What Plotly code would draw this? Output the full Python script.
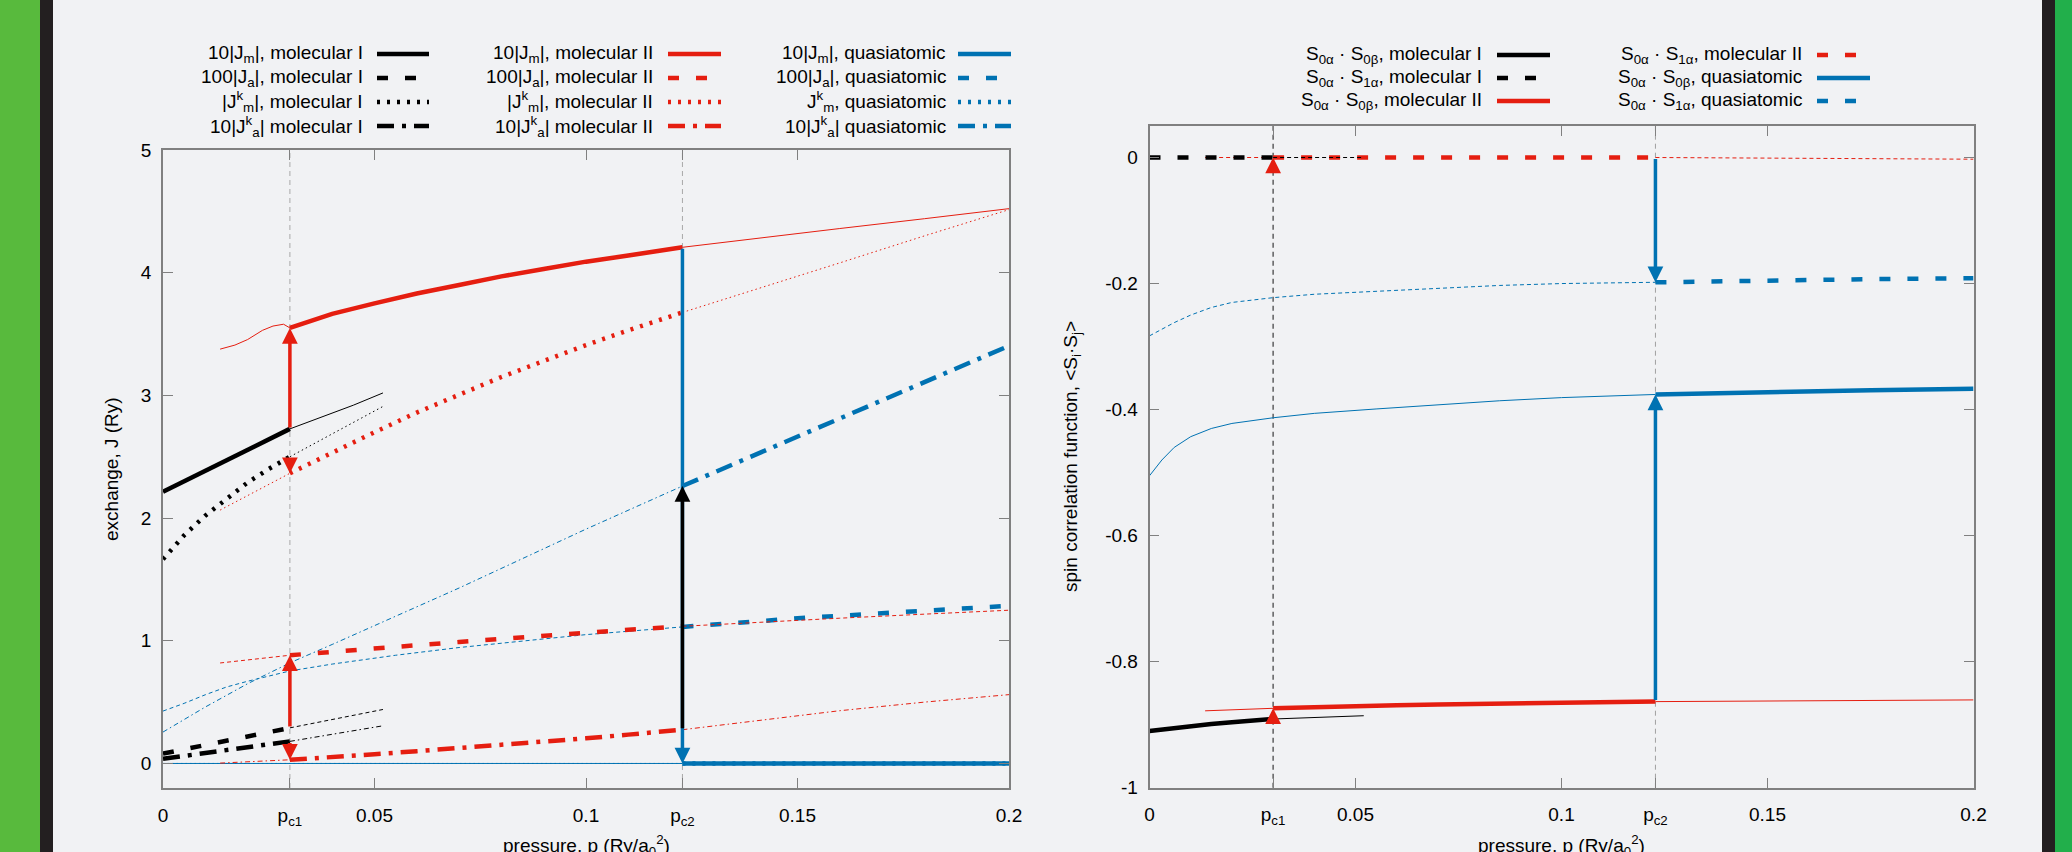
import numpy as np
import plotly.graph_objects as go

W, H = 2072, 852
PC1, PC2 = 0.03, 0.1228

BLACK, RED, BLUE = "#000000", "#e51e10", "#0072b2"
BG = "#f1f2f4"
FRAME = "#808080"
GREEN_L, GREEN_R, DARK = "#58ba3d", "#22af4b", "#231f20"
FONT = "Liberation Sans, Arial, Helvetica, sans-serif"
FS = 19

# ---------------- exchange integrals, J (Ry) ----------------
p_mol1 = [0, 0.005, 0.01, 0.015, 0.02, 0.025, 0.03, 0.035, 0.04, 0.045, 0.052]
jm_mol1 = [2.215, 2.30, 2.385, 2.47, 2.555, 2.64, 2.727, 2.79, 2.855, 2.92, 3.02]
ja_mol1 = [0.08, 0.115, 0.15, 0.185, 0.22, 0.255, 0.29, 0.325, 0.36, 0.39, 0.44]
jkm_mol1 = [1.665, 1.86, 2.02, 2.16, 2.29, 2.40, 2.50, 2.593, 2.686, 2.78, 2.91]
jka_mol1 = [0.038, 0.062, 0.086, 0.11, 0.134, 0.157, 0.18, 0.209, 0.238, 0.267, 0.307]

p_mol2 = [0.0135, 0.017, 0.02, 0.0235, 0.026, 0.0285, 0.03, 0.035, 0.04, 0.05, 0.06,
          0.07, 0.08, 0.09, 0.1, 0.11, 0.1228, 0.14, 0.16, 0.18, 0.2]
jm_mol2 = [3.377, 3.41, 3.455, 3.53, 3.565, 3.58, 3.55, 3.61, 3.665, 3.75, 3.83,
           3.90, 3.97, 4.03, 4.09, 4.14, 4.207, 4.28, 4.36, 4.44, 4.522]
ja_mol2 = [0.819, 0.832, 0.844, 0.857, 0.866, 0.876, 0.882, 0.897, 0.911, 0.938, 0.964,
           0.99, 1.016, 1.042, 1.067, 1.09, 1.118, 1.15, 1.184, 1.217, 1.249]
jkm_mol2 = [2.065, 2.13, 2.185, 2.25, 2.295, 2.34, 2.365, 2.45, 2.535, 2.70, 2.86,
            3.01, 3.15, 3.28, 3.41, 3.53, 3.676, 3.86, 4.08, 4.30, 4.514]
jka_mol2 = [0.003, 0.008, 0.013, 0.018, 0.022, 0.027, 0.03, 0.04, 0.05, 0.075, 0.10,
            0.125, 0.15, 0.178, 0.205, 0.235, 0.275, 0.345, 0.43, 0.50, 0.561]

p_quasi = [0, 0.005, 0.01, 0.015, 0.02, 0.025, 0.03, 0.04, 0.055, 0.07, 0.085, 0.1,
           0.1228, 0.15, 0.175, 0.2]
jm_quasi = [0, 0, 0, 0, 0, 0, 0, 0, 0, 0, 0, 0, 0, 0, 0, 0]
ja_quasi = [0.427, 0.49, 0.56, 0.623, 0.67, 0.715, 0.754, 0.81, 0.882, 0.945, 1.0, 1.05,
            1.113, 1.183, 1.235, 1.285]
jkm_quasi = [0, 0, 0, 0, 0, 0, 0, 0, 0, 0, 0, 0, 0, 0, 0, 0]
jka_quasi = [0.256, 0.36, 0.46, 0.555, 0.65, 0.735, 0.82, 0.97, 1.20, 1.43, 1.67, 1.91,
             2.261, 2.663, 3.034, 3.404]

# ---------------- spin correlation functions <Si.Sj> ----------------
s0b_mol1 = [-0.910, -0.906, -0.9025, -0.899, -0.896, -0.8935, -0.891, -0.8898, -0.8885,
            -0.8875, -0.8858]
s1a_mol1 = [0, 0, 0, 0, 0, 0, 0, 0, 0, 0, 0]
s0b_mol2 = [-0.878, -0.877, -0.8763, -0.8755, -0.875, -0.8744, -0.874, -0.873, -0.872,
            -0.8705, -0.869, -0.8678, -0.8667, -0.8656, -0.8645, -0.8638, -0.8634,
            -0.8628, -0.862, -0.8613, -0.8607]
s1a_mol2 = [0, 0, 0, 0, 0, 0, 0, 0, 0, 0, 0, 0, 0, 0, 0, 0, 0, -0.0005, -0.001, -0.002,
            -0.0027]
p_quasi_s = [0, 0.003, 0.006, 0.01, 0.015, 0.02, 0.03, 0.04, 0.055, 0.07, 0.085, 0.1,
             0.1228, 0.15, 0.175, 0.2]
s0b_quasi = [-0.505, -0.48, -0.46, -0.443, -0.430, -0.422, -0.413, -0.406, -0.399,
             -0.392, -0.386, -0.381, -0.376, -0.372, -0.3695, -0.367]
s1a_quasi = [-0.283, -0.272, -0.262, -0.250, -0.238, -0.230, -0.2224, -0.217, -0.212,
             -0.207, -0.203, -0.200, -0.198, -0.195, -0.193, -0.1915]

# ---------------- axes ----------------
x_ticks = [0, PC1, 0.05, 0.1, PC2, 0.15, 0.2]
x_tick_text = ["0", "p<sub>c1</sub>", "0.05", "0.1", "p<sub>c2</sub>", "0.15", "0.2"]
j_ticks = [0, 1, 2, 3, 4, 5]
s_ticks = [0, -0.2, -0.4, -0.6, -0.8, -1]
s_tick_text = ["0", "-0.2", "-0.4", "-0.6", "-0.8", "-1"]

# stable pressure window of each phase (thick inside, thin outside)
PHASES = {"mol1": (0.0, PC1), "mol2": (PC1, PC2), "quasi": (PC2, 0.2)}

THICK, THIN = 4.5, 1.0
DASH_THICK = {"solid": "solid", "dash": "11px,17px", "dot": "3px,7px",
              "dashdot": "17px,8px,4px,8px"}
DASH_THIN = {"solid": "solid", "dash": "4px,3px", "dot": "1.5px,3px",
             "dashdot": "5px,3px,1.5px,3px"}


def fx(px):
    """page x pixel -> paper fraction"""
    return px / W


def fy(py):
    """page y pixel -> paper fraction"""
    return 1 - py / H


fig = go.Figure()


def add_series(p, v, phase, color, style, xa, ya):
    lo, hi = PHASES[phase]
    eps = 1e-9
    parts = [
        ([(a, b) for a, b in zip(p, v) if a <= lo + eps], False),
        ([(a, b) for a, b in zip(p, v) if lo - eps <= a <= hi + eps], True),
        ([(a, b) for a, b in zip(p, v) if a >= hi - eps], False),
    ]
    for pts, thick in parts:
        if len(pts) < 2:
            continue
        fig.add_trace(go.Scatter(
            x=[a for a, _ in pts], y=[b for _, b in pts], mode="lines",
            line=dict(color=color, width=THICK if thick else THIN,
                      dash=(DASH_THICK if thick else DASH_THIN)[style]),
            xaxis=xa, yaxis=ya, showlegend=False, hoverinfo="skip"))


# left panel
for p, v, ph, c, st in [
    (p_quasi, jm_quasi, "quasi", BLUE, "solid"),
    (p_quasi, jkm_quasi, "quasi", BLUE, "dot"),
    (p_quasi, ja_quasi, "quasi", BLUE, "dash"),
    (p_quasi, jka_quasi, "quasi", BLUE, "dashdot"),
    (p_mol2, jm_mol2, "mol2", RED, "solid"),
    (p_mol2, ja_mol2, "mol2", RED, "dash"),
    (p_mol2, jkm_mol2, "mol2", RED, "dot"),
    (p_mol2, jka_mol2, "mol2", RED, "dashdot"),
    (p_mol1, jm_mol1, "mol1", BLACK, "solid"),
    (p_mol1, ja_mol1, "mol1", BLACK, "dash"),
    (p_mol1, jkm_mol1, "mol1", BLACK, "dot"),
    (p_mol1, jka_mol1, "mol1", BLACK, "dashdot"),
]:
    add_series(p, v, ph, c, st, "x", "y")

# right panel
for p, v, ph, c, st in [
    (p_quasi_s, s0b_quasi, "quasi", BLUE, "solid"),
    (p_quasi_s, s1a_quasi, "quasi", BLUE, "dash"),
    (p_mol2, s0b_mol2, "mol2", RED, "solid"),
    (p_mol2, s1a_mol2, "mol2", RED, "dash"),
    (p_mol1, s0b_mol1, "mol1", BLACK, "solid"),
    (p_mol1, s1a_mol1, "mol1", BLACK, "dash"),
]:
    add_series(p, v, ph, c, st, "x2", "y2")


def at(p, v, x):
    return float(np.interp(x, p, v))


# phase-transition arrows (tail value -> head value)
arrows = [
    ("x", "y", PC1, at(p_mol1, jm_mol1, PC1), at(p_mol2, jm_mol2, PC1), RED),
    ("x", "y", PC1, at(p_mol1, jkm_mol1, PC1), at(p_mol2, jkm_mol2, PC1), RED),
    ("x", "y", PC1, at(p_mol1, ja_mol1, PC1), at(p_mol2, ja_mol2, PC1), RED),
    ("x", "y", PC1, at(p_mol1, jka_mol1, PC1), at(p_mol2, jka_mol2, PC1), RED),
    ("x", "y", PC2, at(p_mol2, jm_mol2, PC2), at(p_quasi, jm_quasi, PC2), BLUE),
    ("x", "y", PC2, at(p_mol2, jka_mol2, PC2), at(p_quasi, jka_quasi, PC2), BLACK),
    ("x2", "y2", PC1, at(p_mol1, s0b_mol1, PC1), at(p_mol2, s0b_mol2, PC1), RED),
    ("x2", "y2", PC2, at(p_mol2, s1a_mol2, PC2), at(p_quasi_s, s1a_quasi, PC2), BLUE),
    ("x2", "y2", PC2, at(p_mol2, s0b_mol2, PC2), at(p_quasi_s, s0b_quasi, PC2), BLUE),
]
for xa, ya, px, tail, head, col in arrows:
    fig.add_annotation(x=px, y=head, ax=px, ay=tail, xref=xa, yref=ya,
                       axref=xa, ayref=ya, text="", showarrow=True, arrowhead=2,
                       arrowsize=0.9, arrowwidth=3.5, arrowcolor=col, standoff=0)
# S0a.S1a is zero in both molecular phases: only the head is visible
fig.add_annotation(x=PC1, y=at(p_mol2, s1a_mol2, PC1), xref="x2", yref="y2",
                   ax=0, ay=16, text="", showarrow=True, arrowhead=2, arrowsize=0.9,
                   arrowwidth=3.5, arrowcolor=RED, standoff=0)

# critical-pressure guides
for xa, px, col, w in [("x", PC1, "#a8a8a8", 1), ("x", PC2, "#a8a8a8", 1),
                       ("x2", PC1, "#3a3a3a", 1.2), ("x2", PC2, "#a0a0a0", 1)]:
    fig.add_shape(type="line", xref=xa, yref=("y" if xa == "x" else "y2") + " domain",
                  x0=px, x1=px, y0=0, y1=1, layer="below",
                  line=dict(color=col, width=w, dash="5px,4px"))

axis_common = dict(showline=True, linecolor=FRAME, linewidth=1.5, mirror="ticks",
                   ticks="inside", ticklen=10, tickwidth=1, tickcolor=FRAME,
                   showgrid=False, zeroline=False, automargin=False,
                   tickfont=dict(family=FONT, size=FS, color=BLACK))

fig.update_layout(
    width=W, height=H, margin=dict(l=0, r=0, t=0, b=0, autoexpand=False), autosize=False,
    paper_bgcolor=BG, plot_bgcolor=BG, font=dict(family=FONT, size=FS, color=BLACK),
    showlegend=False,
    xaxis=dict(domain=[fx(163), fx(1009)], range=[0, 0.2], anchor="y",
               tickvals=x_ticks, ticktext=x_tick_text, ticklabelstandoff=9, **axis_common),
    yaxis=dict(domain=[fy(788), fy(150)], range=[-0.2, 5], anchor="x",
               tickvals=j_ticks, ticktext=[str(t) for t in j_ticks],
               ticklabelstandoff=6, **axis_common),
    xaxis2=dict(domain=[fx(1149.5), fx(1973.5)], range=[0, 0.2], anchor="y2",
                tickvals=x_ticks, ticktext=x_tick_text, ticklabelstandoff=9, **axis_common),
    yaxis2=dict(domain=[fy(787.7), fy(126)], range=[-1, 0.05], anchor="x2",
                tickvals=s_ticks, ticktext=s_tick_text, ticklabelstandoff=6, **axis_common),
)


def px_ann(text, x, y, xanchor="center", yanchor="middle", angle=0):
    fig.add_annotation(text=text, x=fx(x), y=fy(y), xref="paper", yref="paper",
                       xanchor=xanchor, yanchor=yanchor, textangle=angle,
                       showarrow=False, font=dict(family=FONT, size=FS, color=BLACK))


# axis titles
px_ann("pressure, p (Ry/a<sub>0</sub><sup>2</sup>)", 586, 845)
px_ann("pressure, p (Ry/a<sub>0</sub><sup>2</sup>)", 1561.5, 845)
px_ann("exchange, J (Ry)", 111, 469, angle=-90)
px_ann("spin correlation function, &lt;S<sub>i</sub>·S<sub>j</sub>&gt;", 1072, 457, angle=-90)

# key: (text, right edge of text, sample x0, sample x1, row y, colour, style)
key_left = [
    ("10|J<sub>m</sub>|, molecular I", 365, 377, 429, 54, BLACK, "solid"),
    ("100|J<sub>a</sub>|, molecular I", 365, 377, 429, 78, BLACK, "dash"),
    ("|J<sup>k</sup><sub>m</sub>|, molecular I", 365, 377, 429, 102, BLACK, "dot"),
    ("10|J<sup>k</sup><sub>a</sub>| molecular I", 365, 377, 429, 126, BLACK, "dashdot"),
    ("10|J<sub>m</sub>|, molecular II", 655, 668, 721, 54, RED, "solid"),
    ("100|J<sub>a</sub>|, molecular II", 655, 668, 721, 78, RED, "dash"),
    ("|J<sup>k</sup><sub>m</sub>|, molecular II", 655, 668, 721, 102, RED, "dot"),
    ("10|J<sup>k</sup><sub>a</sub>| molecular II", 655, 668, 721, 126, RED, "dashdot"),
    ("10|J<sub>m</sub>|, quasiatomic", 948, 958, 1011, 54, BLUE, "solid"),
    ("100|J<sub>a</sub>|, quasiatomic", 948, 958, 1011, 78, BLUE, "dash"),
    ("J<sup>k</sup><sub>m</sub>, quasiatomic", 948, 958, 1011, 102, BLUE, "dot"),
    ("10|J<sup>k</sup><sub>a</sub>| quasiatomic", 948, 958, 1011, 126, BLUE, "dashdot"),
]
key_right = [
    ("S<sub>0α</sub> · S<sub>0β</sub>, molecular I", 1484, 1497, 1550, 55, BLACK, "solid"),
    ("S<sub>0α</sub> · S<sub>1α</sub>, molecular I", 1484, 1497, 1550, 78, BLACK, "dash"),
    ("S<sub>0α</sub> · S<sub>0β</sub>, molecular II", 1484, 1497, 1550, 101, RED, "solid"),
    ("S<sub>0α</sub> · S<sub>1α</sub>, molecular II", 1804, 1817, 1870, 55, RED, "dash"),
    ("S<sub>0α</sub> · S<sub>0β</sub>, quasiatomic", 1804, 1817, 1870, 78, BLUE, "solid"),
    ("S<sub>0α</sub> · S<sub>1α</sub>, quasiatomic", 1804, 1817, 1870, 101, BLUE, "dash"),
]
for text, xr, s0, s1, yc, col, st in key_left + key_right:
    px_ann(text, xr, yc, xanchor="right")
    fig.add_shape(type="line", xref="paper", yref="paper", x0=fx(s0), x1=fx(s1),
                  y0=fy(yc), y1=fy(yc),
                  line=dict(color=col, width=THICK, dash=DASH_THICK[st]))

# side bands of the page
BANDS = [(0, 40, GREEN_L), (40, 53, DARK), (2042, 2055, DARK), (2055, 2072, GREEN_R)]
for x0, x1, col in BANDS:
    fig.add_shape(type="rect", xref="paper", yref="paper", x0=fx(x0), x1=fx(x1),
                  y0=0, y1=1, line=dict(width=0), fillcolor=col, layer="below")

fig.write_html("out.html", config={"displayModeBar": False})
